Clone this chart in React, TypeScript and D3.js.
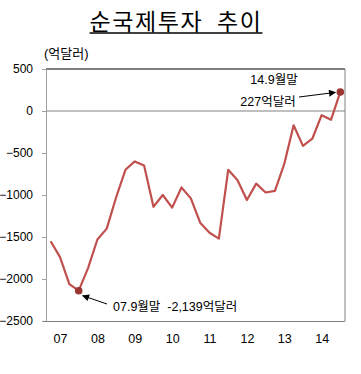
import React, { useEffect, useRef } from "react";
import * as d3 from "d3";

// quarter-end points, 06.12 ~ 14.9 (억달러)
const quarters = [
  "06.12",
  "07.3", "07.6", "07.9", "07.12",
  "08.3", "08.6", "08.9", "08.12",
  "09.3", "09.6", "09.9", "09.12",
  "10.3", "10.6", "10.9", "10.12",
  "11.3", "11.6", "11.9", "11.12",
  "12.3", "12.6", "12.9", "12.12",
  "13.3", "13.6", "13.9", "13.12",
  "14.3", "14.6", "14.9",
];
const netIip = [
  -1550,
  -1740, -2060, -2139, -1870,
  -1530, -1400, -1030, -700,
  -600, -650, -1140, -1000,
  -1150, -910, -1040, -1330,
  -1450, -1520, -700, -825,
  -1060, -865, -970, -950,
  -630, -170, -415, -330,
  -50, -105, 227,
];
const yTicks = [500, 0, -500, -1000, -1500, -2000, -2500];
// year labels sit under the March point of each year
const yearTicks = ["07.3", "08.3", "09.3", "10.3", "11.3", "12.3", "13.3", "14.3"];
const highlights = ["07.9", "14.9"];

const W = 361;
const H = 374;
const plot = { left: 46, right: 345, top: 69, bottom: 321 };
const lineColor = "#c0504d";
const font = "'Liberation Sans', 'Noto Sans CJK KR', sans-serif";

export default function App() {
  const ref = useRef<SVGSVGElement>(null);

  useEffect(() => {
    const svg = d3.select(ref.current);
    svg.selectAll("*").remove();

    const x = d3.scalePoint<string>().domain(quarters).range([plot.left, plot.right]).padding(0.5);
    const y = d3.scaleLinear().domain([-2500, 500]).range([plot.bottom, plot.top]);

    svg
      .append("defs")
      .append("marker")
      .attr("id", "arrow")
      .attr("viewBox", "0 0 10 10")
      .attr("refX", 9)
      .attr("refY", 5)
      .attr("markerWidth", 9)
      .attr("markerHeight", 7)
      .attr("markerUnits", "userSpaceOnUse")
      .attr("orient", "auto")
      .append("path")
      .attr("d", "M0,0L10,5L0,10Z")
      .attr("fill", "#000");

    // title
    const title = svg
      .append("text")
      .attr("x", 176)
      .attr("y", 30)
      .attr("text-anchor", "middle")
      .style("font-family", "'Noto Sans CJK KR', sans-serif")
      .style("font-size", "23px")
      .style("letter-spacing", "1.6px")
      .style("white-space", "pre")
      .style("fill", "#000")
      .text("순국제투자  추이");
    const tb = (title.node() as SVGTextElement).getBBox();
    svg
      .append("line")
      .attr("x1", tb.x)
      .attr("x2", tb.x + tb.width)
      .attr("y1", 33)
      .attr("y2", 33)
      .attr("stroke", "#000")
      .attr("stroke-width", 1.3);

    svg
      .append("text")
      .attr("x", 44)
      .attr("y", 58)
      .style("font-family", font)
      .style("font-size", "13px")
      .text("(억달러)");

    // frame: top black, right and bottom gray
    svg.append("line").attr("x1", plot.left).attr("x2", plot.right).attr("y1", y(500)).attr("y2", y(500)).attr("stroke", "#000");
    svg.append("line").attr("x1", plot.right).attr("x2", plot.right).attr("y1", plot.top).attr("y2", plot.bottom).attr("stroke", "#808080");
    svg.append("line").attr("x1", plot.left).attr("x2", plot.right).attr("y1", y(0)).attr("y2", y(0)).attr("stroke", "#808080");

    // y axis
    const yAxis = svg
      .append("g")
      .attr("transform", `translate(${plot.left},0)`)
      .call(d3.axisLeft(y).tickValues(yTicks).tickSize(4).tickPadding(9).tickFormat(d3.format("d")));
    yAxis.select(".domain").attr("stroke", "#a0a0a0");
    yAxis.selectAll(".tick line").attr("stroke", "#a0a0a0");
    yAxis.selectAll("text").style("font-family", font).style("font-size", "12px").attr("fill", "#000");

    // x axis (no ticks)
    const xAxis = svg
      .append("g")
      .attr("transform", `translate(0,${plot.bottom})`)
      .call(d3.axisBottom(x).tickValues(yearTicks).tickSize(0).tickPadding(13).tickFormat((d) => d.split(".")[0]));
    xAxis.select(".domain").attr("stroke", "#808080").attr("d", `M${plot.left - 3},0.5H${plot.right}`);
    xAxis.selectAll("text").style("font-family", font).style("font-size", "12.5px").attr("fill", "#000");

    // series line
    const line = d3
      .line<number>()
      .x((d, i) => x(quarters[i]) as number)
      .y((d) => y(d));
    svg
      .append("path")
      .datum(netIip)
      .attr("d", line)
      .attr("fill", "none")
      .attr("stroke", lineColor)
      .attr("stroke-width", 2.2)
      .attr("stroke-linejoin", "round");

    svg
      .selectAll(".hl")
      .data(highlights)
      .join("circle")
      .attr("class", "hl")
      .attr("cx", (d) => x(d) as number)
      .attr("cy", (d) => y(netIip[quarters.indexOf(d)]))
      .attr("r", 3.8)
      .attr("fill", "#9b3533");

    // annotations
    const lowX = x("07.9") as number;
    const lowY = y(netIip[quarters.indexOf("07.9")]);
    svg
      .append("line")
      .attr("x1", 107)
      .attr("y1", 304)
      .attr("x2", lowX + 4)
      .attr("y2", lowY + 5)
      .attr("stroke", "#000")
      .attr("stroke-width", 1)
      .attr("marker-end", "url(#arrow)");
    svg
      .append("text")
      .attr("x", 113)
      .attr("y", 311)
      .style("font-family", font)
      .style("font-size", "12.5px")
      .style("white-space", "pre")
      .text("07.9월말  -2,139억달러");

    const endX = x("14.9") as number;
    const endY = y(netIip[quarters.indexOf("14.9")]);
    svg
      .append("text")
      .attr("x", 274)
      .attr("y", 84)
      .attr("text-anchor", "middle")
      .style("font-family", font)
      .style("font-size", "12.5px")
      .text("14.9월말");
    svg
      .append("text")
      .attr("x", 268)
      .attr("y", 106)
      .attr("text-anchor", "middle")
      .style("font-family", font)
      .style("font-size", "12.5px")
      .text("227억달러");
    svg
      .append("line")
      .attr("x1", 299)
      .attr("y1", 97)
      .attr("x2", endX - 5)
      .attr("y2", endY + 0.5)
      .attr("stroke", "#000")
      .attr("stroke-width", 1)
      .attr("marker-end", "url(#arrow)");
  }, []);

  return (
    <div style={{ position: "absolute", left: 0, top: 0 }}>
      <svg ref={ref} width={W} height={H} style={{ display: "block", background: "#fff" }} />
    </div>
  );
}
